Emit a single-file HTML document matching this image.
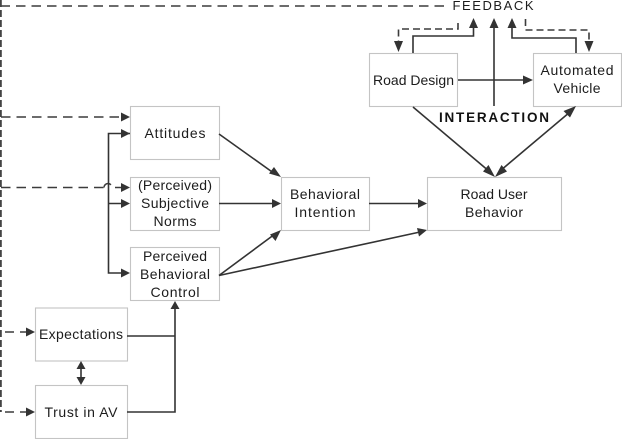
<!DOCTYPE html>
<html>
<head>
<meta charset="utf-8">
<style>
html,body{margin:0;padding:0;background:#fff;width:622px;height:439px;overflow:hidden}
svg{display:block;filter:blur(.25px)}
text{font-family:"Liberation Sans",sans-serif;font-size:14px;fill:#1c1c1c;text-anchor:middle}
.box{fill:#fff;stroke:#c4c4c4;stroke-width:1.1}
.l{fill:none;stroke:#333;stroke-width:1.6}
.d{fill:none;stroke:#3c3c3c;stroke-width:1.6;stroke-dasharray:9.500 6}
.a{fill:#333}
</style>
</head>
<body>
<svg width="622" height="439" viewBox="0 0 622 439" xmlns="http://www.w3.org/2000/svg">
<!-- dashed feedback lines -->
<path d="M0.500 6H449" class="d"/>
<path d="M0.800 0V412" fill="none" stroke="#444" stroke-width="2" stroke-dasharray="7 3"/>
<path d="M1 117H122" class="d"/>
<path d="M1 187.500H104M104 187.500a4 4 0 0 1 8 0M115 187.500H122" class="d"/>
<path d="M5 332H14M20 332H29" class="d"/>
<path d="M5 412H14M20 412H29" class="d"/>
<path d="M458 23V29H398.500V43" class="d" style="stroke-dasharray:7 4"/>
<path d="M525.500 19V30H589V43" class="d" style="stroke-dasharray:7 4"/>
<!-- boxes -->
<rect class="box" x="369.500" y="53.500" width="88" height="53"/>
<rect class="box" x="533.500" y="53.500" width="88" height="53"/>
<rect class="box" x="427.500" y="177.500" width="134" height="53"/>
<rect class="box" x="281.500" y="177.500" width="88" height="53"/>
<rect class="box" x="130.500" y="106.500" width="89" height="53"/>
<rect class="box" x="130.500" y="177.500" width="89" height="53"/>
<rect class="box" x="130.500" y="247.500" width="89" height="53"/>
<rect class="box" x="35.500" y="308" width="92" height="53"/>
<rect class="box" x="35.500" y="385.500" width="92" height="53"/>
<!-- solid lines -->
<path class="l" d="M413 53V36H473.500V25"/>
<path class="l" d="M576 53V38H512V25"/>
<path class="l" d="M494 106V25"/>
<path class="l" d="M458 80H526"/>
<path class="l" d="M413 107L490 172"/>
<path class="l" d="M500 171L570 112"/>
<path class="l" d="M130 133.500H108.500V273H124M108.500 203.500H124"/>
<path class="l" d="M219 134L275 174"/>
<path class="l" d="M219 203.500H274"/>
<path class="l" d="M369 203.500H420"/>
<path class="l" d="M219 275.500L275 234"/>
<path class="l" d="M219 275.500L420 232"/>
<path class="l" d="M127 336H175M127 412H175V308"/>
<path class="l" d="M81 365V381"/>
<!-- arrowheads -->
<g class="a">
<path d="M398.500 52L394 41H403Z"/>
<path d="M589 52L584.500 41H593.500Z"/>
<path d="M473.500 18L469 28H478Z"/>
<path d="M494 18L489.500 28H498.500Z"/>
<path d="M512 18L507.500 28H516.500Z"/>
<path d="M533 80L523 75.500V84.500Z"/>
<path d="M495 177L483 171.500L488.500 165Z"/>
<path d="M495 177L501.500 165L507 171.500Z"/>
<path d="M576 106L570 117.500L563.500 111Z"/>
<path d="M130 117L121 112.500V121.500Z"/>
<path d="M130 133.500L121 129V138Z"/>
<path d="M130 187.500L121 183V192Z"/>
<path d="M130 203.500L121 199V208Z"/>
<path d="M130 273L121 268.500V277.500Z"/>
<path d="M35 332L26 327.500V336.500Z"/>
<path d="M35 412L26 407.500V416.500Z"/>
<path d="M281 177L269 173.500L274 167Z"/>
<path d="M281 203.500L272 199V208Z"/>
<path d="M281 230L270 234.500L275.500 241Z"/>
<path d="M427 203.500L418 199V208Z"/>
<path d="M427 230L417 228L419 236.500Z"/>
<path d="M175 301L170.500 309H179.500Z"/>
<path d="M81 361L76.500 369H85.500Z"/>
<path d="M81 385L76.500 377H85.500Z"/>
</g>
<!-- labels -->
<text x="493" y="10" textLength="81" style="font-size:13px">FEEDBACK</text>
<text x="494" y="122" textLength="110" style="font-weight:bold;font-size:13.500px;fill:#111">INTERACTION</text>
<text x="413.500" y="85" textLength="81">Road Design</text>
<text x="577" y="75" textLength="73">Automated</text>
<text x="577" y="93" textLength="47">Vehicle</text>
<text x="494" y="199" textLength="67">Road User</text>
<text x="494" y="217" textLength="58">Behavior</text>
<text x="325" y="199" textLength="70">Behavioral</text>
<text x="325" y="217" textLength="61">Intention</text>
<text x="175" y="138" textLength="61">Attitudes</text>
<text x="175" y="190" textLength="74">(Perceived)</text>
<text x="175" y="208" textLength="68">Subjective</text>
<text x="175" y="226" textLength="43">Norms</text>
<text x="175" y="261" textLength="64">Perceived</text>
<text x="175" y="279" textLength="70">Behavioral</text>
<text x="175" y="297" textLength="49">Control</text>
<text x="81" y="339" textLength="84">Expectations</text>
<text x="81" y="417" textLength="73">Trust in AV</text>
</svg>
</body>
</html>
